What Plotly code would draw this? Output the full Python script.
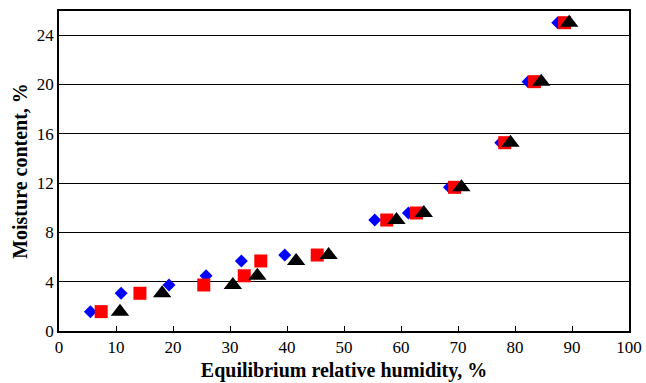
import plotly.graph_objects as go

# Moisture content levels shared by all three series (%)
moisture = [1.57, 3.06, 3.73, 4.48, 5.68, 6.16, 9.0, 9.57, 11.65, 15.27, 20.22, 25.0]

# Equilibrium relative humidity (%) for each series
erh_blue = [5.5, 10.9, 19.3, 25.8, 32.0, 39.6, 55.4, 61.3, 68.5, 77.5, 82.3, 87.5]
erh_red = [7.4, 14.2, 25.4, 32.5, 35.4, 45.3, 57.5, 62.7, 69.4, 78.2, 83.4, 88.7]
erh_black = [10.7, 18.1, 30.5, 34.8, 41.6, 47.3, 59.2, 64.0, 70.6, 79.2, 84.6, 89.5]

x_ticks = list(range(0, 101, 10))
y_ticks = [0, 4, 8, 12, 16, 20, 24]

fig = go.Figure()
fig.add_trace(go.Scatter(x=erh_blue, y=moisture, mode="markers",
                         marker=dict(symbol="diamond", size=10, color="#0000ff", line=dict(width=0))))
fig.add_trace(go.Scatter(x=erh_red, y=moisture, mode="markers",
                         marker=dict(symbol="square", size=13, color="#ff0000", line=dict(width=0))))
fig.add_trace(go.Scatter(x=erh_black, y=moisture, mode="markers",
                         marker=dict(symbol="triangle-up", size=16, color="#000000", line=dict(width=0))))

serif = "Liberation Serif"
tick_font = dict(family=serif, size=17, color="black")
title_font = dict(family=serif, size=20, color="black")

fig.update_layout(
    width=646, height=383,
    margin=dict(l=59, r=17, t=11, b=52),
    paper_bgcolor="white", plot_bgcolor="white",
    showlegend=False,
    font=dict(family=serif, size=17, color="black"),
)
fig.update_xaxes(
    range=[0, 100], tickvals=x_ticks, ticks="inside", ticklen=5, tickcolor="black",
    tickfont=tick_font, automargin=False,
    showline=True, linecolor="black", linewidth=1.5, mirror=True,
    showgrid=False, zeroline=False,
    title=dict(text="<b>Equilibrium relative humidity, %</b>", font=title_font, standoff=7),
)
fig.update_yaxes(
    range=[0, 25.95], tickvals=y_ticks, ticks="",
    tickfont=tick_font, automargin=False,
    showline=True, linecolor="black", linewidth=1.5, mirror=True,
    showgrid=True, gridcolor="black", gridwidth=1, zeroline=False,
    title=dict(text="<b>Moisture content, %</b>", font=title_font, standoff=4),
)

fig.write_html("out.html")
